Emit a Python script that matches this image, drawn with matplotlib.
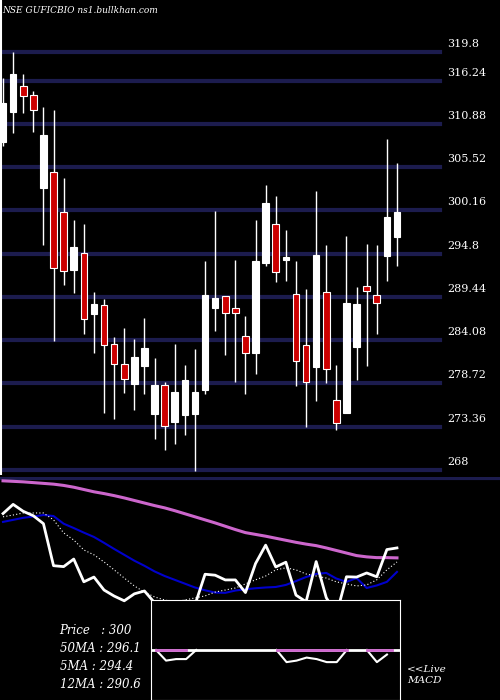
import numpy as np
import matplotlib
matplotlib.use('Agg')
import matplotlib.pyplot as plt

# OHLC (oldest first)
opens = [308.65, 312.37, 315.59, 314.47, 302.95, 304.93, 299.98, 292.79, 294.90, 287.34,
         288.45, 283.62, 281.14, 278.67, 280.90, 274.95, 278.54, 273.96, 274.82, 274.95,
         277.92, 288.08, 289.57, 288.08, 284.61, 282.51, 293.66, 298.49, 294.03, 289.82,
         283.50, 280.77, 290.06, 276.68, 275.07, 283.25, 290.81, 289.69, 294.53, 296.88]
highs = [316.58, 319.80, 317.07, 314.97, 312.99, 312.61, 304.19, 298.99, 298.49, 290.06,
         289.20, 284.49, 285.60, 284.24, 286.84, 281.89, 278.91, 283.62, 281.02, 283.00,
         293.90, 300.10, 289.60, 294.03, 287.09, 298.99, 303.32, 301.96, 297.75, 293.90,
         290.44, 302.58, 295.89, 281.02, 297.00, 290.68, 296.01, 295.89, 309.02, 306.05]
lows = [308.15, 309.76, 312.24, 309.89, 295.89, 283.99, 290.93, 289.94, 284.86, 282.51,
        275.07, 274.33, 277.55, 275.44, 277.43, 271.85, 270.49, 271.23, 272.35, 267.89,
        277.43, 285.23, 282.26, 278.91, 277.43, 279.90, 293.29, 291.30, 291.43, 278.42,
        273.34, 276.56, 278.79, 272.97, 275.07, 279.16, 280.90, 284.86, 291.43, 293.29]
closes = [313.48, 317.07, 314.35, 312.61, 309.52, 293.04, 292.67, 295.64, 286.72, 288.58,
          283.50, 281.14, 279.28, 282.01, 283.13, 278.54, 273.46, 277.67, 279.16, 277.67,
          289.69, 289.32, 287.46, 287.46, 282.51, 293.90, 301.09, 292.54, 294.40, 281.52,
          278.91, 294.65, 280.52, 273.83, 288.70, 288.58, 290.19, 288.70, 299.36, 300.00]

ma50 = [326.3, 326.1, 325.9, 325.6, 325.3, 325.0, 324.5, 323.8, 322.9, 322.0,
        321.3, 320.5, 319.6, 318.6, 317.6, 316.6, 315.7, 314.6, 313.4, 312.2,
        311.0, 309.8, 308.5, 307.2, 306.0, 305.3, 304.6, 303.8, 303.0, 302.2,
        301.5, 300.9, 300.0, 299.0, 298.0, 297.0, 296.5, 296.2, 296.2, 296.1]
ma12 = [310.2, 311.0, 311.8, 312.3, 312.9, 312.5, 309.5, 307.8, 306.0, 304.3,
        302.0, 299.6, 297.3, 295.0, 293.0, 290.8, 289.0, 287.5, 286.0, 284.5,
        283.4, 282.5, 282.4, 283.3, 283.8, 284.2, 284.5, 284.7, 285.5, 287.0,
        288.6, 289.8, 290.2, 288.0, 286.7, 288.2, 284.3, 285.3, 286.7, 290.6]
ma5 = [312.2, 312.9, 313.7, 313.7, 313.7, 311.0, 305.9, 303.1, 299.2, 297.3,
       294.5, 291.4, 288.2, 285.1, 282.7, 280.8, 279.6, 278.8, 279.6, 280.4,
       281.2, 282.7, 283.5, 284.3, 285.9, 287.5, 289.0, 291.4, 292.2, 291.4,
       289.8, 289.0, 288.2, 286.7, 285.9, 285.1, 285.5, 287.5, 291.4, 294.5]

levels = [319.8, 316.24, 310.88, 305.52, 300.16, 294.8, 289.44, 284.08, 278.72, 273.36, 268]

# MACD inset values
macd = [0, -0.7, -0.6, -0.6, 0, np.nan, np.nan, np.nan, np.nan, np.nan, np.nan, np.nan,
        0, -0.8, -0.7, -0.5, -0.6, -0.8, -0.8, 0, np.nan, 0, -0.8, -0.3]
sig_start = [0, 12, 21]
sig_end = [3, 19, 23.5]

navy = '#1c1c4e'
serif = 'DejaVu Serif'

fig = plt.figure(figsize=(5, 7), dpi=100, facecolor='black')
ax = fig.add_axes([0, 1 - 475 / 700, 1, 475 / 700])
ax.set_facecolor('black')
x = np.arange(len(closes))
ax.set_xlim(-0.3, 49.2)
ax.set_ylim(267.38, 326.24)

for lv in levels:
    ax.axhline(lv, xmin=0, xmax=0.88, color=navy, lw=3, zorder=1)
    ax.text(44.0, lv + 1.0, str(lv), color='white', fontsize=8, family=serif, va='center')

for i in x:
    o, h, l, c = opens[i], highs[i], lows[i], closes[i]
    ax.vlines(i, l, h, color='white', lw=1, zorder=2)
    face = 'white' if c >= o else '#cc0000'
    bot = min(o, c)
    ht = max(abs(c - o), 0.3)
    ax.bar(i, ht, bottom=bot, width=0.65, color=face, edgecolor='white', lw=0.8, zorder=3)

ax.axvline(-0.2, color='white', lw=1.5)
ax.text(0.004, 0.988, 'NSE GUFICBIO ns1.bullkhan.com', transform=ax.transAxes,
        color='white', fontsize=6.5, family=serif, style='italic', va='top')
ax.axis('off')

# lower indicator panel
ax2 = fig.add_axes([0, 0, 1, 223 / 700])
ax2.set_facecolor('black')
ax2.set_xlim(-0.3, 49.2)
ax2.set_ylim(240.4, 327.8)
ax2.axhline(327.3, color=navy, lw=3)
ax2.plot(x, ma50, color='#cc66cc', lw=2.2)
ax2.plot(x, ma12, color='#0000cc', lw=1.5)
ax2.plot(x, ma5, color='white', lw=0.8, ls=(0, (1, 2)))
ax2.plot(x, closes, color='white', lw=2)
ax2.axis('off')
ax2.text(5.6, 270, 'Price   : 300\n50MA : 296.1\n5MA : 294.4\n12MA : 290.6', color='white',
         fontsize=8.5, family=serif, style='italic', va='top', linespacing=1.5)
ax2.text(40, 254, '<<Live\nMACD', color='white', fontsize=7.5, family=serif,
         style='italic', va='top', linespacing=1.2)

# MACD inset
ax3 = fig.add_axes([151 / 500, 0, 249 / 500, 100 / 700])
ax3.set_facecolor('black')
for s in ax3.spines.values():
    s.set_color('white')
ax3.set_xticks([])
ax3.set_yticks([])
mx = np.arange(len(macd))
ax3.set_xlim(-0.5, 24.3)
ax3.set_ylim(-3.3, 3.3)
ax3.axhline(0, color='white', lw=2)
ax3.plot(mx, macd, color='white', lw=1.5)
for a, b in zip(sig_start, sig_end):
    ax3.plot([a, b], [0, 0], color='#cc66cc', lw=2)

fig.savefig('out.png', dpi=100, facecolor='black')
